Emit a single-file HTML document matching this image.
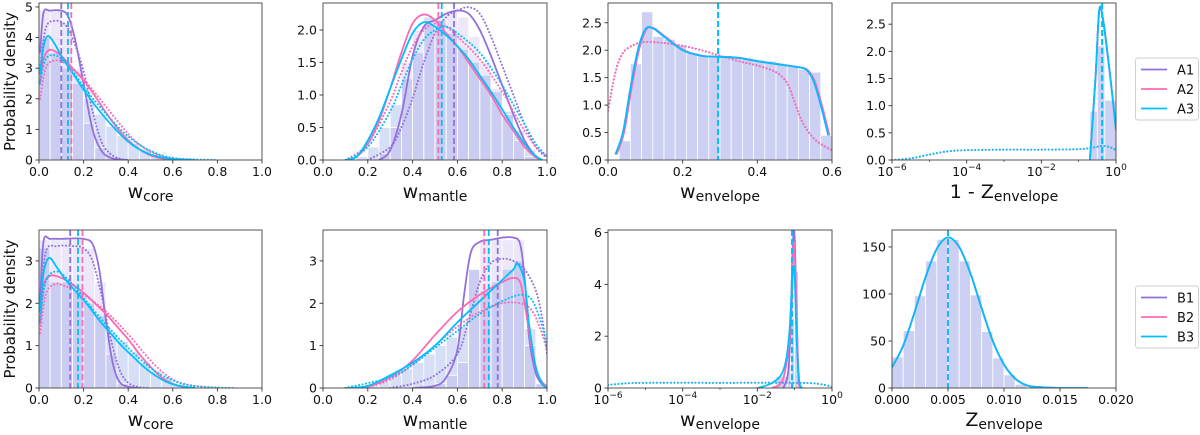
<!DOCTYPE html>
<html><head><meta charset="utf-8"><style>
html,body{margin:0;padding:0;background:#fff;width:1200px;height:435px;overflow:hidden}
svg{display:block}
text{font-family:"DejaVu Sans","Liberation Sans",sans-serif;fill:#111}
</style></head><body>
<svg id="fig" width="1200" height="435" viewBox="0 0 1200 435"></svg>
<script>
// ---------- data ----------
const seriesNames = ['1','2','3'];
const colors = ['#9370DB','#FF69B4','#00BFFF'];
// Panel A core
const aCoreSolid1=[[0.005,3.5],[0.02,4.8],[0.05,4.88],[0.1,4.88],[0.13,4.7],[0.16,4.0],[0.2,2.5],[0.24,1.0],[0.28,0.3],[0.32,0.08],[0.36,0.02],[0.4,0]];
const aCoreDot1=[[0.005,3.0],[0.03,4.3],[0.07,4.55],[0.12,4.4],[0.16,3.8],[0.2,2.9],[0.24,1.6],[0.28,0.6],[0.32,0.2],[0.36,0.05],[0.4,0]];
const aCoreSolid2=[[0.005,2.5],[0.02,3.3],[0.05,3.6],[0.1,3.4],[0.15,3.0],[0.2,2.6],[0.25,2.1],[0.3,1.55],[0.35,1.05],[0.4,0.65],[0.45,0.35],[0.5,0.15],[0.55,0.05],[0.6,0]];
const aCoreDot2=[[0.005,2.0],[0.03,3.0],[0.07,3.25],[0.12,3.15],[0.18,2.8],[0.24,2.3],[0.3,1.75],[0.36,1.2],[0.42,0.7],[0.48,0.35],[0.54,0.15],[0.6,0.05],[0.7,0]];
const aCoreSolid3=[[0.005,2.8],[0.02,3.7],[0.04,4.05],[0.07,3.8],[0.1,3.4],[0.15,2.85],[0.2,2.3],[0.25,1.8],[0.3,1.35],[0.35,0.95],[0.4,0.6],[0.45,0.35],[0.5,0.18],[0.55,0.08],[0.6,0.03],[0.7,0]];
const aCoreDot3=[[0.005,2.5],[0.03,3.3],[0.08,3.4],[0.14,3.0],[0.2,2.4],[0.26,1.85],[0.32,1.35],[0.38,0.9],[0.44,0.55],[0.5,0.3],[0.56,0.13],[0.62,0.05],[0.7,0.02],[0.8,0]];
const aCoreMedians=[0.10,0.145,0.13];
const aCoreHistBroad=[4.0,3.5,3.0,2.5,2.0,1.5,1.1,0.8,0.55,0.35,0.2,0.1,0.05,0.02];
const aCoreHistNarrow=[4.9,4.9,4.5,3.0,1.2,0.4,0.1,0.02];
// Panel A mantle
const aManSolid1=[[0.25,0],[0.3,0.15],[0.35,0.7],[0.4,1.6],[0.45,2.05],[0.5,2.15],[0.55,2.25],[0.6,2.3],[0.65,2.25],[0.7,2.0],[0.75,1.6],[0.8,1.15],[0.85,0.7],[0.9,0.3],[0.95,0.05],[0.97,0]];
const aManDot1=[[0.2,0],[0.3,0.2],[0.35,0.5],[0.4,0.95],[0.45,1.5],[0.5,1.95],[0.55,2.2],[0.6,2.3],[0.65,2.35],[0.7,2.25],[0.75,1.9],[0.8,1.45],[0.85,1.0],[0.9,0.55],[0.95,0.2],[1.0,0.03]];
const aManSolid2=[[0.1,0],[0.15,0.05],[0.2,0.25],[0.25,0.6],[0.3,1.1],[0.35,1.65],[0.4,2.1],[0.45,2.24],[0.5,2.15],[0.55,1.95],[0.6,1.75],[0.65,1.5],[0.7,1.25],[0.75,1.0],[0.8,0.7],[0.85,0.45],[0.9,0.2],[0.95,0.04],[0.97,0]];
const aManDot2=[[0.1,0],[0.2,0.25],[0.3,0.9],[0.35,1.35],[0.4,1.75],[0.45,2.0],[0.5,2.1],[0.55,2.05],[0.6,1.9],[0.7,1.55],[0.8,1.05],[0.85,0.75],[0.9,0.45],[0.95,0.2],[1.0,0.05]];
const aManSolid3=[[0.1,0],[0.15,0.05],[0.2,0.3],[0.25,0.65],[0.3,1.1],[0.35,1.55],[0.4,1.95],[0.45,2.12],[0.5,2.05],[0.55,1.92],[0.6,1.75],[0.65,1.55],[0.7,1.3],[0.75,1.05],[0.8,0.78],[0.85,0.5],[0.9,0.25],[0.95,0.06],[0.98,0]];
const aManDot3=[[0.1,0],[0.2,0.2],[0.3,0.75],[0.35,1.15],[0.4,1.55],[0.45,1.85],[0.5,2.0],[0.55,2.05],[0.6,1.95],[0.7,1.65],[0.8,1.15],[0.85,0.85],[0.9,0.55],[0.95,0.25],[1.0,0.05]];
const aManMedians=[0.585,0.515,0.53];
const aManHistBroad=[0,0,0,0.05,0.2,0.5,0.85,1.25,1.65,2.2,2.15,1.95,1.7,1.5,1.3,1.05,0.75,0.45,0.15,0];
const aManHistNarrow=[0,0,0,0,0,0.1,0.5,1.5,2.0,2.1,2.2,2.3,2.2,1.9,1.5,1.1,0.7,0.3,0.05,0];
// Panel A envelope
const aEnvSolid=[[0.02,0.1],[0.04,0.5],[0.06,1.3],[0.08,2.0],[0.1,2.38],[0.12,2.4],[0.15,2.25],[0.2,2.0],[0.25,1.9],[0.3,1.88],[0.35,1.86],[0.4,1.8],[0.45,1.75],[0.5,1.7],[0.53,1.65],[0.55,1.45],[0.57,1.0],[0.59,0.45]];
const aEnvDot=[[0,0.9],[0.02,1.6],[0.04,1.95],[0.07,2.1],[0.1,2.15],[0.15,2.13],[0.2,2.08],[0.25,2.0],[0.3,1.9],[0.35,1.8],[0.4,1.72],[0.45,1.6],[0.48,1.4],[0.5,1.05],[0.52,0.7],[0.55,0.4],[0.58,0.25],[0.6,0.18]];
const aEnvMedians=[0.295,0.295,0.295];
const aEnvHist=[0.35,1.75,2.7,2.25,2.2,2.1,1.95,1.9,1.9,1.9,1.88,1.85,1.82,1.8,1.75,1.72,1.65,1.6,0.45];
// Panel A 1-Z (log10 x)
const aZDot=[[-6,0],[-5.5,0.03],[-5,0.1],[-4.5,0.16],[-4,0.18],[-3,0.19],[-2,0.19],[-1,0.2],[-0.6,0.23],[-0.35,0.26],[-0.1,0.22],[0,0.17]];
const aZSolid=[[-0.7,0],[-0.55,1.5],[-0.45,2.75],[-0.35,2.6],[-0.2,1.8],[-0.1,1.2],[0,0.55]];
const aZMedians=[-0.37,-0.37,-0.37];
const aZHistEdges=[-0.7,-0.5,-0.3,0];
const aZHist=[0.9,2.1,1.1];
// Panel B core
const bCoreSolid1=[[0.005,2.0],[0.02,3.45],[0.05,3.52],[0.1,3.52],[0.15,3.53],[0.2,3.52],[0.24,3.4],[0.27,2.8],[0.3,1.6],[0.33,0.6],[0.36,0.15],[0.4,0.03],[0.45,0]];
const bCoreDot1=[[0.005,1.8],[0.03,3.2],[0.08,3.35],[0.15,3.35],[0.2,3.3],[0.24,3.0],[0.28,2.2],[0.32,1.2],[0.36,0.45],[0.4,0.12],[0.45,0.02],[0.5,0]];
const bCoreSolid2=[[0.005,1.5],[0.02,2.4],[0.05,2.65],[0.1,2.6],[0.15,2.45],[0.2,2.25],[0.25,2.0],[0.3,1.75],[0.35,1.45],[0.4,1.15],[0.45,0.8],[0.5,0.5],[0.55,0.25],[0.6,0.1],[0.65,0.02],[0.7,0]];
const bCoreDot2=[[0.005,1.3],[0.03,2.2],[0.07,2.45],[0.12,2.4],[0.2,2.2],[0.28,1.9],[0.35,1.55],[0.42,1.15],[0.5,0.65],[0.56,0.35],[0.62,0.15],[0.7,0.05],[0.8,0]];
const bCoreSolid3=[[0.005,1.8],[0.02,2.7],[0.045,3.07],[0.08,2.85],[0.12,2.55],[0.17,2.25],[0.22,1.95],[0.27,1.6],[0.32,1.3],[0.37,1.0],[0.42,0.75],[0.47,0.5],[0.52,0.3],[0.57,0.15],[0.62,0.06],[0.7,0]];
const bCoreDot3=[[0.005,1.6],[0.03,2.5],[0.08,2.75],[0.15,2.45],[0.22,2.0],[0.3,1.5],[0.38,1.05],[0.45,0.7],[0.52,0.4],[0.6,0.18],[0.68,0.06],[0.8,0.01],[0.88,0]];
const bCoreMedians=[0.14,0.195,0.175];
const bCoreHistBroad=[3.3,2.5,2.5,2.3,2.0,1.7,1.3,1.1,0.85,0.6,0.4,0.25,0.1,0.05];
const bCoreHistNarrow=[3.5,3.5,3.5,3.5,3.3,2.5,0.8,0.1];
// Panel B mantle
const bManSolid1=[[0.4,0],[0.5,0.05],[0.55,0.25],[0.6,0.9],[0.63,2.2],[0.66,3.2],[0.7,3.45],[0.75,3.5],[0.8,3.55],[0.85,3.55],[0.88,3.4],[0.9,2.6],[0.92,1.2],[0.95,0.35],[0.98,0.08],[1.0,0]];
const bManDot1=[[0.3,0],[0.4,0.1],[0.5,0.3],[0.6,0.8],[0.65,1.6],[0.7,2.5],[0.75,2.95],[0.8,3.05],[0.85,3.0],[0.9,2.8],[0.95,2.3],[0.98,1.6],[1.0,0.8]];
const bManSolid2=[[0.1,0],[0.2,0.03],[0.3,0.25],[0.4,0.65],[0.5,1.25],[0.6,1.8],[0.7,2.2],[0.8,2.5],[0.85,2.6],[0.88,2.5],[0.9,2.0],[0.93,1.0],[0.96,0.3],[1.0,0.02]];
const bManDot2=[[0.1,0],[0.2,0.03],[0.3,0.2],[0.4,0.55],[0.5,1.0],[0.6,1.45],[0.7,1.8],[0.8,2.0],[0.88,2.0],[0.93,1.85],[0.97,1.4],[1.0,0.9]];
const bManSolid3=[[0.1,0],[0.2,0.05],[0.3,0.3],[0.4,0.6],[0.5,1.0],[0.6,1.55],[0.7,2.05],[0.8,2.55],[0.85,2.8],[0.87,2.93],[0.9,2.5],[0.92,1.5],[0.95,0.5],[0.98,0.1],[1.0,0.01]];
const bManDot3=[[0.1,0],[0.3,0.25],[0.4,0.55],[0.5,0.95],[0.6,1.35],[0.7,1.75],[0.8,2.05],[0.88,2.2],[0.93,2.1],[0.97,1.6],[1.0,1.0]];
const bManMedians=[0.78,0.72,0.74];
const bManHistBroad=[0,0,0,0,0.05,0.15,0.3,0.45,0.6,0.8,1.0,1.2,1.45,2.8,2.3,2.5,2.8,3.0,1.4,0.1];
const bManHistNarrow=[0,0,0,0,0,0,0,0,0,0,0.1,0.3,0.6,2.8,3.5,3.5,3.5,3.5,1.0,0.1];
// Panel B envelope (log10 x)
const bEnvDot=[[-6,0.12],[-5.5,0.18],[-5,0.2],[-3,0.2],[-1,0.2],[-0.5,0.18],[-0.2,0.12],[0,0.05]];
const bEnvSolid1=[[-1.3,0],[-1.15,1.0],[-1.05,5.5],[-1.0,5.8],[-0.95,3.0],[-0.9,0.5],[-0.85,0]];
const bEnvSolid2=[[-1.6,0],[-1.3,0.4],[-1.1,2.5],[-1.03,5.6],[-0.97,4.0],[-0.9,0.5],[-0.85,0]];
const bEnvSolid3=[[-2,0],[-1.6,0.2],[-1.3,0.7],[-1.15,2.0],[-1.05,4.5],[-1.0,4.3],[-0.95,2.0],[-0.88,0.3],[-0.8,0]];
const bEnvMedians=[-1.07,-1.07,-1.07];
const bEnvHistEdges=[-1.5,-1.2,-1.1,-1.0,-0.9,-0.85];
const bEnvHist=[0.45,0.9,2.7,4.5,0.6];
// Panel B Z
const bZSolid=[[0,22],[0.001,45],[0.002,80],[0.003,118],[0.004,148],[0.005,160],[0.006,150],[0.007,122],[0.008,85],[0.009,50],[0.010,25],[0.011,10],[0.012,3],[0.013,1],[0.015,0],[0.0175,0]];
const bZMedians=[0.005,0.005,0.005];
const bZHist=[33,61,98,135,158,158,135,99,60,32,14,4,1,0.3];

// ---------- drawing ----------
const NS='http://www.w3.org/2000/svg';
const fig=document.getElementById('fig');
function el(tag,attrs,parent){const e=document.createElementNS(NS,tag);for(const k in attrs)e.setAttribute(k,attrs[k]);(parent||fig).appendChild(e);return e;}
function spline(pts){
  if(pts.length<2)return '';
  let d='M'+pts[0][0].toFixed(2)+','+pts[0][1].toFixed(2);
  for(let i=0;i<pts.length-1;i++){
    const p0=pts[Math.max(0,i-1)],p1=pts[i],p2=pts[i+1],p3=pts[Math.min(pts.length-1,i+2)];
    const c1=[p1[0]+(p2[0]-p0[0])/6,p1[1]+(p2[1]-p0[1])/6];
    const c2=[p2[0]-(p3[0]-p1[0])/6,p2[1]-(p3[1]-p1[1])/6];
    d+='C'+c1.map(v=>v.toFixed(2)).join(',')+' '+c2.map(v=>v.toFixed(2)).join(',')+' '+p2[0].toFixed(2)+','+p2[1].toFixed(2);
  }
  return d;
}
let clipN=0;
function panel(cfg){
  const {x0,x1,y0,y1,xmin,xmax,ymax,name}=cfg;
  const g=el('g',{});
  
  
  const sx=v=>x0+(v-xmin)/(xmax-xmin)*(x1-x0);
  const sy=v=>y1-v/ymax*(y1-y0);
  const cid='clip'+(clipN++);
  const cp=el('clipPath',{id:cid},g);el('rect',{x:x0,y:y0,width:x1-x0,height:y1-y0},cp);
  const inner=el('g',{'clip-path':'url(#'+cid+')'},g);
  (cfg.hists||[]).forEach(h=>{
    h.vals.forEach((v,i)=>{
      const a=h.edges?h.edges[i]:h.start+i*h.bin, b=h.edges?h.edges[i+1]:h.start+(i+1)*h.bin;
      if(v<=0)return;
      const r=el('rect',{x:sx(a),y:sy(v),width:Math.max(0,sx(b)-sx(a)),height:sy(0)-sy(v),fill:h.fill,stroke:'#fff','stroke-width':0.8},inner);
      
      
    });
  });
  (cfg.curves||[]).forEach(c=>{
    const p=el('path',{d:spline(c.pts.map(q=>[sx(q[0]),sy(q[1])])),fill:'none',stroke:colors[c.s],'stroke-width':c.dot?2:1.8,'stroke-dasharray':c.dot?'0.1,3.4':'none','stroke-linecap':c.dot?'round':'butt'},inner);
    
    
  });
  (cfg.medians||[]).forEach((m,i)=>{
    const l=el('line',{x1:sx(m),x2:sx(m),y1:y0,y2:y1,stroke:colors[i],'stroke-width':1.8,'stroke-dasharray':'6,3'},inner);
    
    
  });
  const f=el('rect',{x:x0,y:y0,width:x1-x0,height:y1-y0,fill:'none',stroke:'#444','stroke-width':0.9},g);
  
  
  cfg.xticks.forEach((t,i)=>{
    const X=sx(t);
    el('line',{x1:X,x2:X,y1:y1,y2:y1+3.5,stroke:'#333','stroke-width':0.9},g);
    const tx=el('text',{x:X,y:y1+16,'font-size':12.5,'text-anchor':'middle'},g);
    
    
    if(cfg.log){tx.textContent='10';const s=el('tspan',{'font-size':9,dy:-6},tx);s.textContent=cfg.xlabels[i];}
    else tx.textContent=cfg.xlabels[i];
  });
  (cfg.minor||[]).forEach(t=>{const X=sx(t);el('line',{x1:X,x2:X,y1:y1,y2:y1+2,stroke:'#333','stroke-width':0.7},g);});
  cfg.yticks.forEach((t,i)=>{
    const Y=sy(t);
    el('line',{x1:x0-3.5,x2:x0,y1:Y,y2:Y,stroke:'#333','stroke-width':0.9},g);
    const tx=el('text',{x:x0-6,y:Y+4.5,'font-size':12.5,'text-anchor':'end'},g);
    
    
    tx.textContent=cfg.ylabels[i];
  });
  const xl=el('text',{x:(x0+x1)/2,y:y1+38,'font-size':19,'text-anchor':'middle'},g);
  
  
  xl.textContent=cfg.xmain;
  const sub=el('tspan',{'font-size':14,dy:3},xl);sub.textContent=cfg.xsub;
}
const LIN=[0,0.2,0.4,0.6,0.8,1.0], LINL=['0.0','0.2','0.4','0.6','0.8','1.0'];
const LOG=[-6,-4,-2,0], LOGL=['−6','−4','−2','0'];
const HB='rgba(120,150,225,0.3)', HN='rgba(140,120,220,0.17)';
const T0=3,T1=160,B0=230,B1=388;
const P=[[39,262],[323,547],[608,832],[892,1116]];
panel({name:'panel-a-core',prefix:'A',x0:P[0][0],x1:P[0][1],y0:T0,y1:T1,xmin:0,xmax:1,ymax:5.13,xticks:LIN,xlabels:LINL,yticks:[0,1,2,3,4,5],ylabels:['0','1','2','3','4','5'],xmain:'w',xsub:'core',
 hists:[{start:0,bin:0.05,vals:aCoreHistBroad,fill:HB},{start:0,bin:0.05,vals:aCoreHistNarrow,fill:HN}],
 curves:[{s:0,pts:aCoreSolid1},{s:0,pts:aCoreDot1,dot:1},{s:1,pts:aCoreSolid2},{s:1,pts:aCoreDot2,dot:1},{s:2,pts:aCoreSolid3},{s:2,pts:aCoreDot3,dot:1}],medians:aCoreMedians});
panel({name:'panel-a-mantle',prefix:'A',x0:P[1][0],x1:P[1][1],y0:T0,y1:T1,xmin:0,xmax:1,ymax:2.415,xticks:LIN,xlabels:LINL,yticks:[0,0.5,1,1.5,2],ylabels:['0.0','0.5','1.0','1.5','2.0'],xmain:'w',xsub:'mantle',
 hists:[{start:0,bin:0.05,vals:aManHistBroad,fill:HB},{start:0,bin:0.05,vals:aManHistNarrow,fill:HN}],
 curves:[{s:0,pts:aManSolid1},{s:0,pts:aManDot1,dot:1},{s:1,pts:aManSolid2},{s:1,pts:aManDot2,dot:1},{s:2,pts:aManSolid3},{s:2,pts:aManDot3,dot:1}],medians:aManMedians});
panel({name:'panel-a-envelope',prefix:'A',x0:P[2][0],x1:P[2][1],y0:T0,y1:T1,xmin:0,xmax:0.6,ymax:2.86,xticks:[0,0.2,0.4,0.6],xlabels:['0.0','0.2','0.4','0.6'],yticks:[0,0.5,1,1.5,2,2.5],ylabels:['0.0','0.5','1.0','1.5','2.0','2.5'],xmain:'w',xsub:'envelope',
 hists:[{start:0.03,bin:0.03,vals:aEnvHist,fill:'rgba(120,135,225,0.38)'}],
 curves:[{s:0,pts:aEnvSolid},{s:1,pts:aEnvSolid.map(p=>[p[0]+0.003,p[1]])},{s:0,pts:aEnvDot,dot:1},{s:1,pts:aEnvDot,dot:1},{s:2,pts:aEnvSolid}],medians:aEnvMedians});
panel({name:'panel-a-one-minus-z',prefix:'A',log:1,x0:P[3][0],x1:P[3][1],y0:T0,y1:T1,xmin:-6,xmax:0,ymax:2.89,xticks:LOG,xlabels:LOGL,minor:[-5,-3,-1],yticks:[0,0.5,1,1.5,2,2.5],ylabels:['0.0','0.5','1.0','1.5','2.0','2.5'],xmain:'1 - Z',xsub:'envelope',
 hists:[{edges:aZHistEdges,vals:aZHist,fill:'rgba(120,135,225,0.38)'}],
 curves:[{s:1,pts:aZDot,dot:1},{s:2,pts:aZDot,dot:1},{s:0,pts:aZSolid},{s:1,pts:aZSolid},{s:2,pts:aZSolid}],medians:aZMedians});
panel({name:'panel-b-core',prefix:'B',x0:P[0][0],x1:P[0][1],y0:B0,y1:B1,xmin:0,xmax:1,ymax:3.73,xticks:LIN,xlabels:LINL,yticks:[0,1,2,3],ylabels:['0','1','2','3'],xmain:'w',xsub:'core',
 hists:[{start:0,bin:0.05,vals:bCoreHistBroad,fill:HB},{start:0,bin:0.05,vals:bCoreHistNarrow,fill:HN}],
 curves:[{s:0,pts:bCoreSolid1},{s:0,pts:bCoreDot1,dot:1},{s:1,pts:bCoreSolid2},{s:1,pts:bCoreDot2,dot:1},{s:2,pts:bCoreSolid3},{s:2,pts:bCoreDot3,dot:1}],medians:bCoreMedians});
panel({name:'panel-b-mantle',prefix:'B',x0:P[1][0],x1:P[1][1],y0:B0,y1:B1,xmin:0,xmax:1,ymax:3.73,xticks:LIN,xlabels:LINL,yticks:[0,1,2,3],ylabels:['0','1','2','3'],xmain:'w',xsub:'mantle',
 hists:[{start:0,bin:0.05,vals:bManHistBroad,fill:HB},{start:0,bin:0.05,vals:bManHistNarrow,fill:HN}],
 curves:[{s:0,pts:bManSolid1},{s:0,pts:bManDot1,dot:1},{s:1,pts:bManSolid2},{s:1,pts:bManDot2,dot:1},{s:2,pts:bManSolid3},{s:2,pts:bManDot3,dot:1}],medians:bManMedians});
panel({name:'panel-b-envelope',prefix:'B',log:1,x0:P[2][0],x1:P[2][1],y0:B0,y1:B1,xmin:-6,xmax:0,ymax:6.1,xticks:LOG,xlabels:LOGL,minor:[-5,-3,-1],yticks:[0,2,4,6],ylabels:['0','2','4','6'],xmain:'w',xsub:'envelope',
 hists:[{edges:bEnvHistEdges,vals:bEnvHist,fill:'rgba(120,135,225,0.38)'}],
 curves:[{s:1,pts:bEnvDot,dot:1},{s:2,pts:bEnvDot,dot:1},{s:0,pts:bEnvSolid1},{s:1,pts:bEnvSolid2},{s:2,pts:bEnvSolid3}],medians:bEnvMedians});
panel({name:'panel-b-z',prefix:'B',x0:P[3][0],x1:P[3][1],y0:B0,y1:B1,xmin:0,xmax:0.02,ymax:168,xticks:[0,0.005,0.01,0.015,0.02],xlabels:['0.000','0.005','0.010','0.015','0.020'],yticks:[0,50,100,150],ylabels:['0','50','100','150'],xmain:'Z',xsub:'envelope',
 hists:[{start:0,bin:0.001,vals:bZHist,fill:'rgba(120,135,225,0.38)'}],
 curves:[{s:0,pts:bZSolid},{s:1,pts:bZSolid},{s:2,pts:bZSolid}],medians:bZMedians});
[[(T0+T1)/2],[(B0+B1)/2]].forEach(([cy])=>{
  const t=el('text',{x:0,y:0,'font-size':15,'text-anchor':'middle',transform:'translate(15,'+cy+') rotate(-90)'});
  
  
  t.textContent='Probability density';
});
function legend(top,prefix){
  const g=el('g',{});
  
  
  el('rect',{x:1135.5,y:top,width:63,height:62,rx:2.5,fill:'#fff',stroke:'#ccc','stroke-width':0.9},g);
  seriesNames.forEach((n,i)=>{
    const y=top+11.5+i*19.5;
    const e=el('g',{},g);
    
    
    el('line',{x1:1141,x2:1167,y1:y,y2:y,stroke:colors[i],'stroke-width':1.8},e);
    const t=el('text',{x:1177,y:y+5,'font-size':13},e);t.textContent=prefix+n;
  });
}
legend(58,'A');legend(286,'B');
</script>
</body></html>
